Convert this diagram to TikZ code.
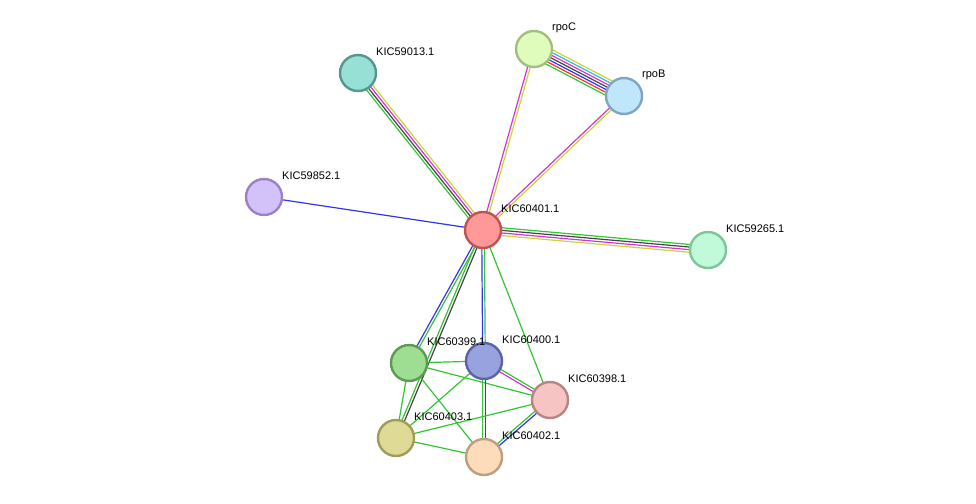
\documentclass[tikz,border=0pt]{standalone}
\usepackage{fontspec}
\setmainfont{Liberation Sans}
\usetikzlibrary{calc}
\definecolor{sgreen}{HTML}{33C633}
\definecolor{sblue}{HTML}{3333F0}
\definecolor{smag}{HTML}{D633D6}
\definecolor{syel}{HTML}{C8D633}
\definecolor{scyan}{HTML}{33B8E0}
\definecolor{sred}{HTML}{F03333}
\definecolor{sblack}{HTML}{444444}
% fill / border per protein
\definecolor{f401}{HTML}{FF9999}\definecolor{d401}{HTML}{C05252}
\definecolor{fC}{HTML}{E0FCBC}\definecolor{dC}{HTML}{A5BE80}
\definecolor{fB}{HTML}{C0E6FC}\definecolor{dB}{HTML}{7FA7C3}
\definecolor{f013}{HTML}{96E0D6}\definecolor{d013}{HTML}{58958D}
\definecolor{f852}{HTML}{D3C1FA}\definecolor{d852}{HTML}{9A82C4}
\definecolor{f265}{HTML}{C0FAD8}\definecolor{d265}{HTML}{7EC59A}
\definecolor{f399}{HTML}{9EDE92}\definecolor{d399}{HTML}{5D9A55}
\definecolor{f400}{HTML}{98A2DE}\definecolor{d400}{HTML}{5A64A3}
\definecolor{f398}{HTML}{F7C4C4}\definecolor{d398}{HTML}{B88484}
\definecolor{f403}{HTML}{DFDB96}\definecolor{d403}{HTML}{A09C5A}
\definecolor{f402}{HTML}{FDDCBC}\definecolor{d402}{HTML}{BE9E80}
\tikzset{
  prot/.style={circle, minimum size=36pt, inner sep=0pt, line width=2.4pt, fill=f#1, draw=d#1},
  lab/.style={anchor=west, font=\fontsize{11}{13}\selectfont, inner sep=0pt}
}
% #1,#2 nodes, #3 number of lines, #4 colours
\newcommand\edge[4]{%
  \foreach \c [count=\i] in {#4} {
    \pgfmathsetmacro\off{(\i-(#3+1)/2)*2.6}
    \draw[\c, line width=1.2pt] ($(#1)!\off pt!90:(#2)$) -- ($(#2)!\off pt!-90:(#1)$);
  }}
\begin{document}
\begin{tikzpicture}[x=1pt,y=-1pt]
\useasboundingbox (0,0) rectangle (976,503);
\coordinate (c401) at (483,230);
\coordinate (cC) at (534,49);
\coordinate (cB) at (624,96);
\coordinate (c013) at (358,73);
\coordinate (c852) at (264,197);
\coordinate (c265) at (708,250);
\coordinate (c399) at (409,363);
\coordinate (c400) at (484,361);
\coordinate (c398) at (550,400);
\coordinate (c403) at (396,438);
\coordinate (c402) at (484,457);
% edges
\edge{cC}{cB}{7}{sgreen,sred,sblue,sblack,smag,scyan,syel}
\edge{c401}{cC}{2}{syel,smag}
\edge{c401}{cB}{2}{syel,smag}
\edge{c401}{c013}{4}{syel,smag,sblack,sgreen}
\edge{c401}{c852}{1}{sblue}
\edge{c401}{c265}{4}{syel,smag,sblack,sgreen}
\edge{c401}{c399}{2}{sblue,sgreen}
\edge{c401}{c403}{2}{sgreen,sblack}
\edge{c401}{c400}{2}{sblue,sgreen}
\edge{c401}{c398}{1}{sgreen}
\edge{c399}{c400}{1}{sgreen}
\edge{c399}{c398}{1}{sgreen}
\edge{c399}{c403}{1}{sgreen}
\edge{c399}{c402}{1}{sgreen}
\edge{c400}{c398}{2}{smag,sgreen}
\edge{c400}{c403}{1}{sgreen}
\edge{c400}{c402}{2}{sgreen,sblue}
\edge{c398}{c403}{1}{sgreen}
\edge{c398}{c402}{2}{sgreen,sblue}
\edge{c403}{c402}{1}{sgreen}
% nodes
\foreach \n in {401,C,B,013,852,265,399,400,398,403,402}
  \node[prot=\n] (n\n) at (c\n) {};
% labels
\foreach \n/\t in {401/KIC60401.1, C/rpoC, B/rpoB, 013/KIC59013.1, 852/KIC59852.1,
  265/KIC59265.1, 399/KIC60399.1, 400/KIC60400.1, 398/KIC60398.1, 403/KIC60403.1, 402/KIC60402.1}
  \node[lab] (l\n) at ($(c\n)+(18,-21)$) {\t};
\end{tikzpicture}
\end{document}
